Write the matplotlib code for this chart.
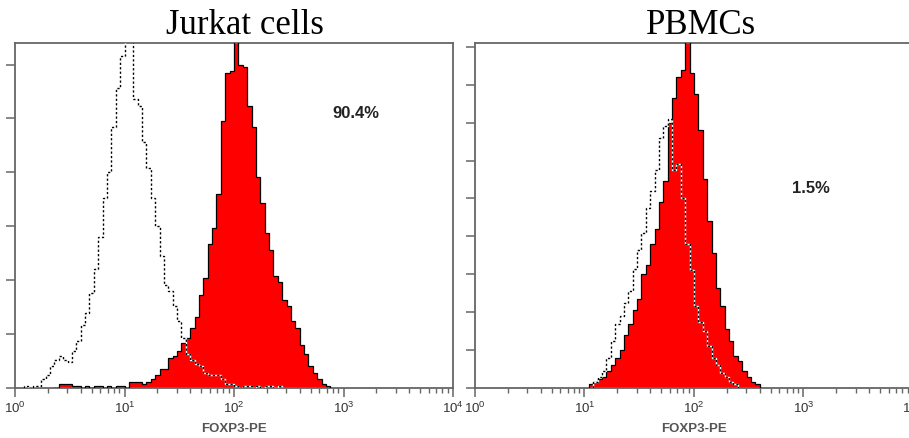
import numpy as np
import matplotlib
matplotlib.use("Agg")
import matplotlib.pyplot as plt
from matplotlib.ticker import LogLocator, FixedLocator, NullFormatter

plt.rcParams['mathtext.fontset'] = 'custom'
plt.rcParams['mathtext.rm'] = 'Liberation Sans'
plt.rcParams['mathtext.it'] = 'Liberation Sans'
plt.rcParams['mathtext.bf'] = 'Liberation Sans:bold'

# histogram data: bins are 0.04 decades wide, starting at the given log10 value
bin_w = 0.04

# Jurkat cells
jurkat_stain_start = 0.36
jurkat_stain = [0, 2, 2, 2, 1, 1, 0, 1, 0, 1, 1, 0, 1, 0, 1, 1, 0,
                3, 3, 3, 2, 3, 4,
                6, 9, 9, 14, 15, 17, 21, 23, 28, 33, 43, 51, 67, 74, 90, 124,
                146, 147, 163, 150, 149, 131, 121, 98, 86, 72, 64, 52, 49, 41,
                38, 31, 28, 20, 16, 10, 7, 4, 2, 1]
jurkat_iso_start = 0.08
jurkat_iso = [1, 0, 1, 1, 4, 6, 10, 13, 15, 13, 12, 17, 22, 29, 35, 44, 55, 70,
              88, 100, 121, 139, 154, 172, 167, 134, 131, 114, 102, 88, 75, 61,
              48, 45, 38, 31, 23, 16, 13, 11, 10, 7, 6, 6, 6, 4, 2, 2, 1, 0,
              1, 1, 0, 1, 0, 1, 1, 0, 1]

# PBMCs
pbmc_stain_start = 1.04
pbmc_stain = [2, 3, 5, 6, 9, 12, 16, 20, 28, 34, 41, 47, 60, 65, 76, 84, 98,
              109, 140, 153, 164, 168, 186, 166, 155, 136, 110, 88, 71, 53, 43,
              31, 25, 17, 14, 9, 6, 3, 2]
pbmc_iso_start = 1.08
pbmc_iso = [3, 6, 9, 16, 25, 34, 38, 45, 51, 63, 73, 82, 95, 104, 115, 132,
            138, 142, 115, 118, 100, 76, 62, 43, 35, 30, 22, 16, 12, 8, 6, 3, 2]

titles = ["Jurkat cells", "PBMCs"]
percents = ["90.4%", "1.5%"]
xlabel = "FOXP3-PE"
ymax = [160, 182]
ystep = [25, 20]


def edges(start, counts):
    return 10 ** (start + bin_w * np.arange(len(counts) + 1))


fig = plt.figure(figsize=(9.09, 4.39), dpi=100)
ax1 = fig.add_axes([15 / 909, 50 / 439, 438 / 909, 345 / 439])
ax2 = fig.add_axes([475 / 909, 50 / 439, 438 / 909, 345 / 439])

panels = [
    (ax1, jurkat_stain_start, jurkat_stain, jurkat_iso_start, jurkat_iso),
    (ax2, pbmc_stain_start, pbmc_stain, pbmc_iso_start, pbmc_iso),
]

spine_col = '#666666'
for i, (ax, s0, s, i0, iso) in enumerate(panels):
    e = edges(s0, s)
    ax.stairs(s, e, fill=True, color='#ff0000', zorder=2)
    ax.stairs(s, e, color='black', lw=0.9, zorder=3)
    ei = edges(i0, iso)
    ax.stairs(iso, ei, color='white', lw=1.0, zorder=4)
    ax.stairs(iso, ei, color='black', lw=1.0, linestyle=(0, (1.6, 1.6)), zorder=5)

    ax.set_xscale('log')
    ax.set_xlim(1, 1e4)
    ax.set_ylim(0, ymax[i])
    ax.xaxis.set_major_locator(FixedLocator([1, 10, 100, 1000, 10000]))
    ax.set_xticklabels(['$10^{0}$', '$10^{1}$', '$10^{2}$', '$10^{3}$', '$10^{4}$'])
    ax.xaxis.set_minor_locator(LogLocator(base=10, subs=np.arange(2, 10)))
    ax.xaxis.set_minor_formatter(NullFormatter())
    ax.set_yticks(np.arange(0, ymax[i], ystep[i]))
    ax.set_yticklabels([])
    ax.tick_params(axis='both', which='major', direction='out', length=6.5,
                   width=1.1, color=spine_col, labelsize=9.5,
                   labelcolor='#333333', pad=2)
    ax.tick_params(axis='x', which='minor', direction='out', length=3.5,
                   width=1.0, color=spine_col)
    for sp in ax.spines.values():
        sp.set_color(spine_col)
        sp.set_linewidth(1.3)
    ax.set_xlabel(xlabel, fontsize=9.5, fontweight='bold', color='#555555',
                  family='Liberation Sans', labelpad=5)

fig.text(245 / 909, 1 - 26 / 439, titles[0], ha='center', va='center',
         family='Liberation Serif', fontsize=25)
fig.text(701 / 909, 1 - 26 / 439, titles[1], ha='center', va='center',
         family='Liberation Serif', fontsize=25)
fig.text(356 / 909, 1 - 113 / 439, percents[0], ha='center', va='center',
         family='Liberation Sans', fontsize=12, fontweight='bold', color='#222222')
fig.text(811 / 909, 1 - 189 / 439, percents[1], ha='center', va='center',
         family='Liberation Sans', fontsize=12, fontweight='bold', color='#222222')

fig.savefig('out.png', dpi=100)
